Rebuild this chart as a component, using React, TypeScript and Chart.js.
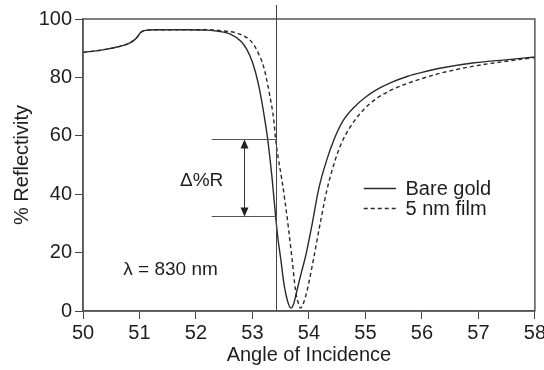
import { useEffect, useRef } from "react";
import { Chart, registerables } from "chart.js";

Chart.register(...registerables);

const FONT = "'Liberation Sans', Arial, Helvetica, sans-serif";
const INK = "#1e1e1e";
const AXIS = "#555555";

// ---- data ----
const bareAngles = [
  50.0, 50.2, 50.4, 50.6, 50.77, 50.88, 50.95, 51.02, 51.1, 51.3, 51.8, 52.2, 52.4, 52.6,
  52.8, 52.9, 53.0, 53.1, 53.2, 53.27, 53.35, 53.41, 53.45, 53.5, 53.56, 53.62, 53.68,
  53.73, 53.79, 53.87, 53.94, 54.06, 54.17, 54.32, 54.45, 54.6, 54.8, 55.0, 55.2, 55.45,
  55.75, 56.0, 56.34, 56.93, 57.52, 58.0,
];
const bareValues = [
  88.6, 89.0, 89.6, 90.4, 91.3, 92.4, 93.6, 95.4, 96.1, 96.3, 96.3, 96.2, 95.8, 94.9,
  92.3, 89.6, 85.2, 78.2, 67.8, 58.8, 45.0, 32.4, 25.0, 18.0, 9.0, 3.5, 1.0,
  2.5, 7.2, 13.5, 18.7, 30.1, 41.6, 52.0, 59.0, 65.0, 69.8, 73.2, 75.8, 78.2,
  80.4, 81.7, 83.2, 85.0, 86.1, 87.0,
];

const filmAngles = [
  50.0, 50.2, 50.4, 50.6, 50.77, 50.88, 50.95, 51.02, 51.1, 51.3, 51.8, 52.2, 52.5, 52.72,
  52.9, 53.0, 53.1, 53.2, 53.3, 53.38, 53.41, 53.46, 53.52, 53.58, 53.64, 53.7, 53.76,
  53.8, 53.85, 53.9, 53.97, 54.09, 54.2, 54.32, 54.47, 54.6, 54.8, 55.0, 55.2, 55.45,
  55.75, 56.0, 56.34, 56.93, 57.52, 58.0,
];
const filmValues = [
  88.6, 89.0, 89.6, 90.4, 91.3, 92.4, 93.6, 95.4, 96.1, 96.3, 96.3, 96.3, 95.9, 95.2,
  93.6, 91.8, 88.5, 83.5, 74.5, 65.0, 58.8, 52.0, 45.0, 37.0, 28.0, 18.0, 7.5,
  3.5, 1.0, 2.5, 7.2, 18.7, 30.1, 41.6, 52.0, 58.5, 65.0, 69.6, 72.8, 75.6,
  78.0, 79.6, 81.5, 83.9, 85.6, 86.8,
];

const seriesLabels = ["Bare gold", "5 nm film"];
const xTickValues = [50, 51, 52, 53, 54, 55, 56, 57, 58];
const yTickValues = [0, 20, 40, 60, 80, 100];
const xTitle = "Angle of Incidence";
const yTitle = "% Reflectivity";

// annotations (in data units)
const markerAngle = 53.41;
const deltaLevels = [58.8, 32.4];
const deltaStartAngle = 52.28;
const deltaArrowAngle = 52.85;
const deltaLabel = "Δ%R";
const deltaLabelAt = [52.1, 44.6];
const waveLabel = "λ = 830 nm";
const waveLabelAt = [51.55, 14.2];
const legendLineAngles = [54.97, 55.54];
const legendTextAngle = 55.71;
const legendRowValues = [42.2, 35.3];

const overlay = {
  id: "overlay",
  afterDraw(chart: any) {
    const { ctx, chartArea: a } = chart;
    const x = chart.scales.x;
    const y = chart.scales.y;
    ctx.save();

    // frame
    ctx.strokeStyle = AXIS;
    ctx.lineWidth = 1.5;
    ctx.strokeRect(a.left, a.top, a.right - a.left, a.bottom - a.top);

    // vertical marker line
    const mx = Math.round(x.getPixelForValue(markerAngle)) + 0.5;
    ctx.strokeStyle = "#444";
    ctx.lineWidth = 1;
    ctx.beginPath();
    ctx.moveTo(mx, a.top - 14);
    ctx.lineTo(mx, a.bottom);
    ctx.stroke();

    // delta horizontal lines
    const x0 = x.getPixelForValue(deltaStartAngle);
    const ys = deltaLevels.map((v) => Math.round(y.getPixelForValue(v)) + 0.5);
    ctx.strokeStyle = "#555";
    ys.forEach((py) => {
      ctx.beginPath();
      ctx.moveTo(x0, py);
      ctx.lineTo(mx, py);
      ctx.stroke();
    });

    // double arrow
    const ax = Math.round(x.getPixelForValue(deltaArrowAngle)) + 0.5;
    const [yt, yb] = ys;
    ctx.strokeStyle = "#333";
    ctx.beginPath();
    ctx.moveTo(ax, yt + 6);
    ctx.lineTo(ax, yb - 6);
    ctx.stroke();
    ctx.fillStyle = "#222";
    ctx.beginPath();
    ctx.moveTo(ax, yt);
    ctx.lineTo(ax - 4, yt + 9);
    ctx.lineTo(ax + 4, yt + 9);
    ctx.closePath();
    ctx.fill();
    ctx.beginPath();
    ctx.moveTo(ax, yb);
    ctx.lineTo(ax - 4, yb - 9);
    ctx.lineTo(ax + 4, yb - 9);
    ctx.closePath();
    ctx.fill();

    // labels
    ctx.fillStyle = INK;
    ctx.font = `19px ${FONT}`;
    ctx.textAlign = "center";
    ctx.textBaseline = "middle";
    ctx.fillText(deltaLabel, x.getPixelForValue(deltaLabelAt[0]), y.getPixelForValue(deltaLabelAt[1]));
    ctx.fillText(waveLabel, x.getPixelForValue(waveLabelAt[0]), y.getPixelForValue(waveLabelAt[1]));

    // legend
    ctx.font = `20px ${FONT}`;
    ctx.textAlign = "left";
    const lx0 = x.getPixelForValue(legendLineAngles[0]);
    const lx1 = x.getPixelForValue(legendLineAngles[1]);
    const tx = x.getPixelForValue(legendTextAngle);
    chart.data.datasets.forEach((ds: any, i: number) => {
      const py = Math.round(y.getPixelForValue(legendRowValues[i])) + 0.5;
      ctx.strokeStyle = ds.borderColor;
      ctx.lineWidth = 1.3;
      ctx.setLineDash(ds.borderDash || []);
      ctx.beginPath();
      ctx.moveTo(lx0, py);
      ctx.lineTo(lx1, py);
      ctx.stroke();
      ctx.setLineDash([]);
      ctx.fillStyle = INK;
      ctx.fillText(ds.label, tx, py + 1);
    });

    ctx.restore();
  },
};

export default function App() {
  const ref = useRef<HTMLCanvasElement | null>(null);

  useEffect(() => {
    if (!ref.current) return;
    const chart = new Chart(ref.current, {
      type: "line",
      data: {
        datasets: [
          {
            label: seriesLabels[0],
            data: bareAngles.map((a, i) => ({ x: a, y: bareValues[i] })),
            borderColor: "#2a2a2a",
            borderWidth: 1.4,
            pointRadius: 0,
            cubicInterpolationMode: "monotone",
            fill: false,
          },
          {
            label: seriesLabels[1],
            data: filmAngles.map((a, i) => ({ x: a, y: filmValues[i] })),
            borderColor: "#2a2a2a",
            borderWidth: 1.4,
            borderDash: [4, 3],
            pointRadius: 0,
            cubicInterpolationMode: "monotone",
            fill: false,
          },
        ],
      },
      options: {
        animation: false,
        responsive: false,
        maintainAspectRatio: false,
        layout: { padding: { top: 19, left: 0, right: 0, bottom: 0 } },
        plugins: { legend: { display: false }, tooltip: { enabled: false } },
        scales: {
          x: {
            type: "linear",
            min: 50,
            max: 58,
            afterBuildTicks: (s: any) => {
              s.ticks = xTickValues.map((v) => ({ value: v }));
            },
            afterFit: (s: any) => {
              s.height = 59;
            },
            border: { display: true, color: AXIS, width: 1.5 },
            grid: { display: true, drawOnChartArea: false, drawTicks: true, tickLength: 8, color: "#444" },
            ticks: { color: INK, font: { family: FONT, size: 20 }, padding: 2, maxRotation: 0 },
            title: { display: true, text: xTitle, color: INK, font: { family: FONT, size: 20 }, padding: { top: 0, bottom: 3 } },
          },
          y: {
            type: "linear",
            min: 0,
            max: 100,
            afterBuildTicks: (s: any) => {
              s.ticks = yTickValues.map((v) => ({ value: v }));
            },
            afterFit: (s: any) => {
              s.width = 83;
            },
            border: { display: true, color: AXIS, width: 1.5 },
            grid: { display: true, drawOnChartArea: false, drawTicks: true, tickLength: 8, color: "#444" },
            ticks: { color: INK, font: { family: FONT, size: 20 }, padding: 3 },
            title: { display: true, text: yTitle, color: INK, font: { family: FONT, size: 20 }, padding: { top: 10, bottom: 0 } },
          },
        },
      },
      plugins: [overlay],
    } as any);
    return () => chart.destroy();
  }, []);

  return (
    <div style={{ position: "absolute", left: 0, top: 0, width: 544, height: 370, overflow: "hidden" }}>
      <canvas ref={ref} width={548} height={370} style={{ display: "block", width: 548, height: 370 }} />
    </div>
  );
}
